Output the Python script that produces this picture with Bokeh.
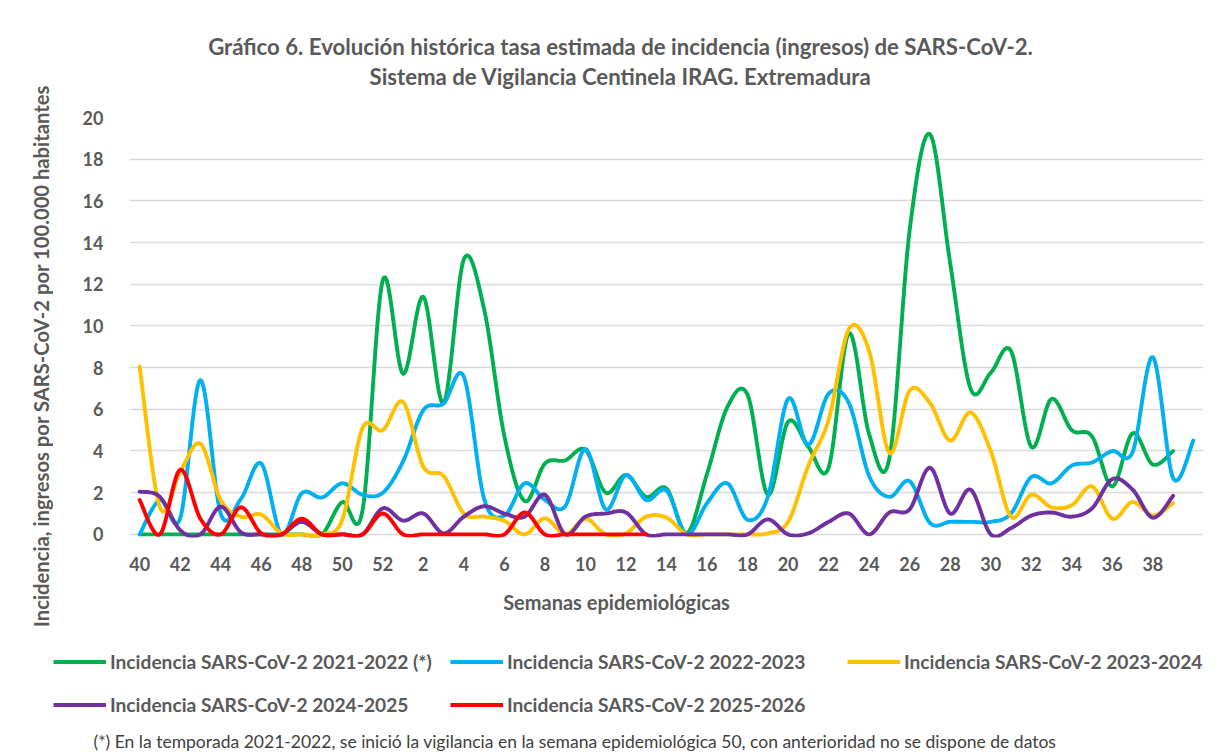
import numpy as np
from bokeh.plotting import figure
from bokeh.layouts import column, row
from bokeh.models import Range1d, FixedTicker, Label, Legend, LegendItem, ColumnDataSource
from bokeh.embed import file_html
from bokeh.resources import INLINE

# ---------------- data ----------------
weeks = [40, 41, 42, 43, 44, 45, 46, 47, 48, 49, 50, 51, 52,
         1, 2, 3, 4, 5, 6, 7, 8, 9, 10, 11, 12, 13, 14, 15, 16, 17, 18, 19, 20,
         21, 22, 23, 24, 25, 26, 27, 28, 29, 30, 31, 32, 33, 34, 35, 36, 37, 38, 39, 40]

s2122 = [0, 0, 0, 0, 0, 0, 0, 0, 0, 0, 1.55, 1.15, 12.2, 7.7, 11.4, 6.3, 13.2, 10.8,
         4.7, 1.6, 3.4, 3.55, 4.05, 2.0, 2.85, 1.8, 2.2, 0.05, 2.9, 6.1, 6.7, 1.9, 5.4,
         4.2, 3.2, 9.65, 4.8, 3.65, 14.6, 19.2, 13.0, 7.0, 7.75, 8.8, 4.2, 6.5, 5.0, 4.7,
         2.3, 4.85, 3.35, 4.0]
s2223 = [0, 1.65, 0.77, 7.4, 1.0, 1.7, 3.4, 0.0, 1.97, 1.77, 2.45, 1.9, 2.0, 3.5,
         5.96, 6.28, 7.56, 1.7, 0.9, 2.45, 1.65, 1.35, 4.1, 1.2, 2.85, 1.65, 2.1, 0,
         1.5, 2.45, 0.7, 1.8, 6.5, 4.3, 6.75, 6.3, 2.8, 1.8, 2.55, 0.55, 0.6, 0.6, 0.6,
         1.0, 2.75, 2.45, 3.3, 3.45, 4.0, 3.95, 8.5, 2.7, 4.5]
s2324 = [8.05, 1.3, 3.0, 4.35, 1.65, 0.85, 0.95, 0.05, 0, 0, 0.7, 5.1, 5.0, 6.35,
         3.25, 2.8, 1.0, 0.85, 0.65, 0, 0.77, 0, 0.75, 0, 0.05, 0.85, 0.8, 0, 0, 0, 0,
         0.05, 0.6, 3.3, 5.5, 9.85, 8.8, 3.9, 6.9, 6.3, 4.5, 5.85, 4.0, 0.85, 1.9, 1.3,
         1.4, 2.3, 0.75, 1.55, 0.9, 1.5]
s2425 = [2.05, 1.8, 0.2, 0, 1.33, 0.1, 0, 0, 0.6, 0, 0, 0, 1.25, 0.66, 1.0, 0.05,
         0.85, 1.35, 1.0, 0.85, 1.9, 0, 0.85, 1.0, 1.05, 0, 0, 0, 0, 0, 0, 0.72, 0,
         0.05, 0.6, 1.0, 0, 1.05, 1.2, 3.2, 1.0, 2.15, 0, 0.3, 0.9, 1.05, 0.85, 1.25,
         2.65, 2.15, 0.8, 1.85]
s2526 = [1.65, 0, 3.1, 0.75, 0, 1.3, 0.05, 0, 0.75, 0, 0, 0, 1.0, 0, 0, 0, 0, 0, 0,
         1.05, 0, 0, 0, 0, 0, 0]

series_names = ["Incidencia SARS-CoV-2 2021-2022 (*)",
                "Incidencia SARS-CoV-2 2022-2023",
                "Incidencia SARS-CoV-2 2023-2024",
                "Incidencia SARS-CoV-2 2024-2025",
                "Incidencia SARS-CoV-2 2025-2026"]
series_values = [s2122, s2223, s2324, s2425, s2526]
series_colors = ["#00B050", "#00B0F0", "#FFC000", "#7030A0", "#FF0000"]

TXT = "#595959"
FONT = "Lato"
LW = 3.9


def smooth(vals, n=16):
    """Excel-like smoothed line (Catmull-Rom Bezier) through the data points."""
    y = np.asarray(vals, dtype=float)
    x = np.arange(len(y), dtype=float)
    xs, ys = [], []
    t = np.linspace(0, 1, n, endpoint=False)
    for i in range(len(y) - 1):
        i0 = max(i - 1, 0)
        i3 = min(i + 2, len(y) - 1)
        for arr, out in ((x, xs), (y, ys)):
            p0, p1, p2, p3 = arr[i0], arr[i], arr[i + 1], arr[i3]
            c1 = p1 + (p2 - p0) / 6.0
            c2 = p2 - (p3 - p1) / 6.0
            b = ((1 - t) ** 3) * p1 + 3 * ((1 - t) ** 2) * t * c1 + 3 * (1 - t) * t ** 2 * c2 + t ** 3 * p2
            out.extend(b.tolist())
    xs.append(x[-1])
    ys.append(y[-1])
    return xs, ys


def blank(w, h):
    f = figure(width=w, height=h, output_backend="svg", toolbar_location=None,
               title_location=None, frame_align=False,
               x_range=Range1d(0, 1), y_range=Range1d(0, 1),
               x_axis_location=None, y_axis_location=None,
               min_border=0, min_border_left=0, min_border_right=0,
               min_border_top=0, min_border_bottom=0)
    f.grid.visible = False
    f.outline_line_color = None
    f.background_fill_color = "white"
    f.border_fill_color = "white"
    return f


def lab(fig, text, x, y, size, style="bold", align="center", angle=0.0, color=TXT):
    fig.add_layout(Label(text=text, x=x, y=y, x_units="screen", y_units="screen",
                         text_font=FONT, text_font_style=style, text_font_size=size,
                         text_color=color, text_align=align, text_baseline="middle",
                         angle=angle))


LEFT_W = 53
RIGHT_W = 1171
TOP_H = 103
MAIN_H = 474
BOT_H = 175
TOTAL_H = TOP_H + MAIN_H + BOT_H

# ---------------- y label strip ----------------
left = blank(LEFT_W, TOTAL_H)
lab(left, "Incidencia, ingresos por SARS-CoV-2 por  100.000 habitantes", 40, TOTAL_H - 353, "20.2px",
    angle=np.pi / 2)

# ---------------- title strip ----------------
top = blank(RIGHT_W, TOP_H)
lab(top, "Gráfico 6. Evolución histórica tasa estimada de incidencia (ingresos) de SARS-CoV-2.", 567, TOP_H - 46, "22.2px")
lab(top, "Sistema de Vigilancia Centinela IRAG. Extremadura", 567, TOP_H - 76, "22.2px")

# ---------------- main chart ----------------
p = figure(width=RIGHT_W, height=MAIN_H, output_backend="svg", toolbar_location=None,
           title_location=None, frame_align=False,
           x_range=Range1d(-0.5, len(weeks) - 0.5), y_range=Range1d(-0.15, 20),
           min_border_left=76, min_border_right=21, min_border_top=14, min_border_bottom=40)
p.background_fill_color = "white"
p.border_fill_color = "white"
p.outline_line_color = None

for vals, col in zip(series_values, series_colors):
    xs, ys = smooth(vals)
    src = ColumnDataSource(dict(x=xs, y=ys))
    p.line("x", "y", source=src, line_color=col, line_width=LW, line_join="round", line_cap="round")

ticks_y = list(range(0, 21, 2))
ticks_x = list(range(0, 51, 2))
p.yaxis.ticker = FixedTicker(ticks=ticks_y)
p.xaxis.ticker = FixedTicker(ticks=ticks_x)
p.xaxis.major_label_overrides = {i: str(weeks[i]) for i in ticks_x}
for ax in (p.xaxis, p.yaxis):
    ax.axis_line_color = None
    ax.major_tick_line_color = None
    ax.minor_tick_line_color = None
    ax.major_label_text_font = FONT
    ax.major_label_text_font_style = "bold"
    ax.major_label_text_font_size = "18px"
    ax.major_label_text_color = TXT
p.yaxis.major_label_standoff = 20
p.xaxis.major_label_standoff = 13
p.ygrid.ticker = FixedTicker(ticks=ticks_y)
p.ygrid.grid_line_color = "#d9d9d9"
p.ygrid.grid_line_width = 1.6
p.xgrid.grid_line_color = None

# ---------------- bottom strip: x label, legend, footnote ----------------
bot = blank(RIGHT_W, BOT_H)
lab(bot, "Semanas epidemiológicas", 563, BOT_H - 24, "20px")
lab(bot, "(*) En la temporada 2021-2022, se inició la vigilancia en la semana epidemiológica 50, con anterioridad no se dispone de datos",
    40, 11, "17.5px", style="normal", align="left", color="#404040")

items = []
for name, col in zip(series_names, series_colors):
    # legend-only renderer (a single missing value, nothing is drawn in the strip)
    r = bot.line(x=[np.nan], y=[np.nan], line_color=col, line_width=LW + 0.3)
    items.append(LegendItem(label=name, renderers=[r]))

legend = Legend(items=items, location=(0, 33), orientation="horizontal", ncols=3,
                glyph_width=53, glyph_height=29, label_height=29, label_width=326,
                label_standoff=4, spacing=14, padding=0, margin=0,
                label_text_font=FONT, label_text_font_style="bold",
                label_text_font_size="19.2px", label_text_color=TXT,
                border_line_color=None, background_fill_alpha=0)
bot.add_layout(legend, "center")

layout = row(left, column(top, p, bot))
open("out.html", "w").write(file_html(layout, INLINE))
